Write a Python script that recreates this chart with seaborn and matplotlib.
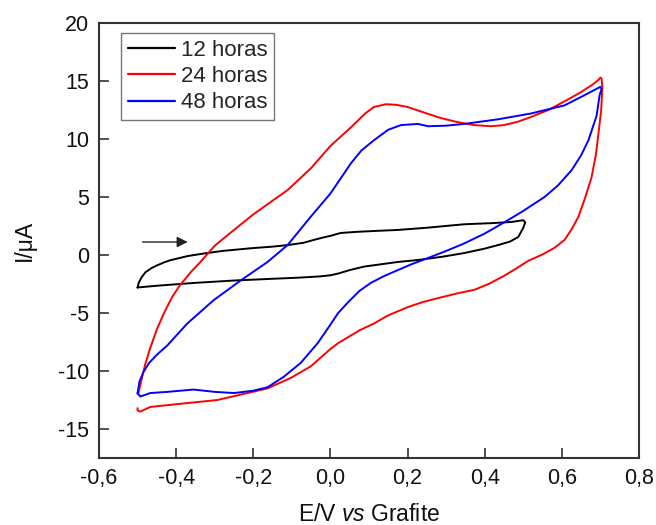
import matplotlib
matplotlib.use("Agg")
import matplotlib.pyplot as plt
import seaborn as sns
import pandas as pd

# ---- data ----
series_names = ["12 horas", "24 horas", "48 horas"]
series_colors = ["#000000", "#ff0000", "#0000ff"]

e_12h = [-0.50, -0.497, -0.49, -0.48, -0.465, -0.45, -0.43, -0.415, -0.39, -0.37,
         -0.33, -0.28, -0.20, -0.15, -0.11, -0.07, -0.043, -0.02, 0.0, 0.027, 0.07,
         0.12, 0.175, 0.25, 0.347, 0.42, 0.47, 0.50, 0.505, 0.50, 0.487, 0.465,
         0.435, 0.40, 0.347, 0.29, 0.227, 0.175, 0.12, 0.087, 0.05, 0.02, 0.0,
         -0.03, -0.08, -0.15, -0.25, -0.35, -0.45, -0.50]
i_12h = [-2.8, -2.4, -1.95, -1.5, -1.15, -0.9, -0.62, -0.45, -0.25, -0.09,
         0.12, 0.35, 0.6, 0.72, 0.86, 1.05, 1.3, 1.5, 1.65, 1.9, 2.0,
         2.08, 2.16, 2.35, 2.65, 2.75, 2.85, 3.0, 2.8, 2.35, 1.55, 1.15,
         0.86, 0.55, 0.17, -0.15, -0.43, -0.6, -0.85, -1.0, -1.3, -1.6, -1.75,
         -1.85, -1.95, -2.05, -2.2, -2.4, -2.65, -2.8]

e_24h = [-0.50, -0.498, -0.49, -0.48, -0.467, -0.45, -0.43, -0.41, -0.39, -0.36,
         -0.337, -0.30, -0.25, -0.20, -0.173, -0.111, -0.05, 0.0, 0.053, 0.09, 0.113,
         0.144, 0.17, 0.20, 0.25, 0.287, 0.33, 0.373, 0.417, 0.45, 0.487, 0.52,
         0.565, 0.61, 0.65, 0.68, 0.695, 0.70, 0.703, 0.705, 0.702, 0.695, 0.688,
         0.677, 0.66, 0.643, 0.625, 0.607, 0.58, 0.55, 0.513, 0.48, 0.45, 0.41,
         0.373, 0.33, 0.287, 0.24, 0.20, 0.15, 0.113, 0.075, 0.045, 0.02, 0.0,
         -0.051, -0.103, -0.163, -0.215, -0.293, -0.381, -0.467, -0.493, -0.50, -0.50]
i_24h = [-12.0, -11.9, -10.8, -9.4, -8.0, -6.4, -4.9, -3.6, -2.6, -1.4,
         -0.6, 0.8, 2.16, 3.5, 4.14, 5.6, 7.5, 9.4, 11.0, 12.2, 12.76,
         13.0, 12.95, 12.76, 12.2, 11.8, 11.45, 11.2, 11.1, 11.2, 11.5, 11.9,
         12.5, 13.3, 14.05, 14.7, 15.1, 15.3, 15.2, 14.5, 12.5, 10.5, 8.6,
         6.7, 4.9, 3.3, 2.2, 1.3, 0.6, 0.05, -0.5, -1.2, -1.8, -2.5,
         -3.0, -3.3, -3.65, -4.05, -4.5, -5.2, -5.9, -6.5, -7.1, -7.6, -8.1,
         -9.6, -10.6, -11.5, -11.9, -12.5, -12.8, -13.1, -13.5, -13.4, -13.2]

e_48h = [-0.50, -0.498, -0.495, -0.485, -0.47, -0.45, -0.423, -0.371, -0.303, -0.233,
         -0.163, -0.111, -0.051, 0.0, 0.053, 0.08, 0.113, 0.15, 0.183, 0.227, 0.253,
         0.30, 0.347, 0.435, 0.52, 0.607, 0.66, 0.70, 0.703, 0.698, 0.69, 0.68,
         0.669, 0.65, 0.625, 0.59, 0.555, 0.50, 0.45, 0.40, 0.347, 0.30, 0.253,
         0.21, 0.175, 0.14, 0.105, 0.075, 0.045, 0.02, 0.0, -0.033, -0.077, -0.121,
         -0.163, -0.20, -0.25, -0.30, -0.355, -0.423, -0.467, -0.493, -0.50]
i_48h = [-11.9, -11.5, -10.9, -10.1, -9.3, -8.6, -7.8, -5.9, -3.9, -2.2,
         -0.6, 0.86, 3.3, 5.3, 7.9, 9.0, 9.9, 10.8, 11.2, 11.3, 11.1,
         11.15, 11.3, 11.7, 12.2, 12.9, 13.8, 14.5, 14.3, 13.8, 12.0, 11.0,
         9.9, 8.6, 7.3, 6.0, 5.0, 3.8, 2.8, 1.85, 1.0, 0.35, -0.26,
         -0.8, -1.3, -1.8, -2.4, -3.1, -4.1, -5.0, -6.0, -7.6, -9.3, -10.5,
         -11.4, -11.7, -11.9, -11.8, -11.6, -11.8, -11.9, -12.2, -11.9]

x_ticks = [-0.6, -0.4, -0.2, 0.0, 0.2, 0.4, 0.6, 0.8]
x_tick_labels = ["-0,6", "-0,4", "-0,2", "0,0", "0,2", "0,4", "0,6", "0,8"]
y_ticks = [-15, -10, -5, 0, 5, 10, 15, 20]
y_tick_labels = ["-15", "-10", "-5", "0", "5", "10", "15", "20"]

# ---- build long-form table ----
frames = []
for name, e, i in zip(series_names, [e_12h, e_24h, e_48h], [i_12h, i_24h, i_48h]):
    frames.append(pd.DataFrame({"E": e, "I": i, "serie": name}))
df = pd.concat(frames, ignore_index=True)

sns.set_style("ticks")
plt.rcParams["font.family"] = ["Liberation Sans", "DejaVu Sans"]
plt.rcParams["mathtext.fontset"] = "custom"
plt.rcParams["mathtext.rm"] = "Liberation Sans"
plt.rcParams["mathtext.it"] = "Liberation Sans:italic"

fig = plt.figure(figsize=(6.56, 5.25), dpi=100)
ax = fig.add_axes([99 / 656, 1 - 458 / 525, 540 / 656, 435 / 525])

sns.lineplot(data=df, x="E", y="I", hue="serie", palette=series_colors,
             hue_order=series_names, sort=False, estimator=None, units="serie",
             linewidth=1.4, ax=ax)

ax.set_xlim(-0.6, 0.8)
ax.set_ylim(-17.5, 20)
ax.set_xticks(x_ticks)
ax.set_xticklabels(x_tick_labels)
ax.set_yticks(y_ticks)
ax.set_yticklabels(y_tick_labels)
ax.tick_params(direction="in", length=7, width=1.2, labelsize=15.5, pad=7,
               color="#333333", labelcolor="#111111")

for s in ax.spines.values():
    s.set_visible(True)
    s.set_linewidth(1.5)
    s.set_color("#333333")

ax.set_xlabel("E/V $vs$ Grafite", fontsize=16.5, labelpad=10, color="#111111")
ax.set_ylabel("I/μA", fontsize=16.5, labelpad=16, color="#111111")

# sweep direction arrow
ax.annotate("", xy=(-0.37, 1.12), xytext=(-0.487, 1.12),
            arrowprops=dict(arrowstyle="-|>", color="#222222", lw=1.0,
                            mutation_scale=16, shrinkA=0, shrinkB=0))

leg = ax.legend(loc="upper left", bbox_to_anchor=(0.0407, 0.977), fontsize=16,
                frameon=True, fancybox=False, edgecolor="#555555",
                handlelength=2.15, handletextpad=0.25, labelspacing=0.24,
                borderpad=0.3, borderaxespad=0)
leg.get_frame().set_linewidth(1.0)
for line in leg.get_lines():
    line.set_linewidth(1.6)

fig.savefig("out.png", dpi=100)
